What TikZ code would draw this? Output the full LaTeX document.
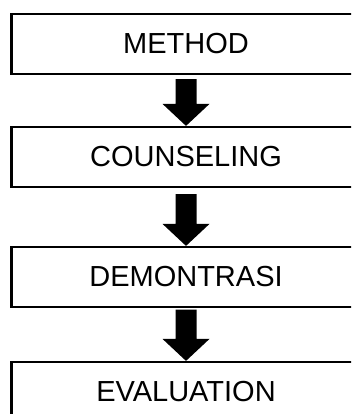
\documentclass[tikz,border=0pt]{standalone}
\usepackage{fontspec}
\setmainfont{Liberation Sans}
\usetikzlibrary{calc}
\tikzset{
  stepbox/.style={draw=black, line width=2.2pt, fill=white, rectangle,
    minimum width=349pt, minimum height=60pt, inner sep=0pt,
    font=\fontsize{29}{32}\selectfont},
}
\newcommand\fatarrow[3]{%
  \fill[black] let \p1=(#1.south), \p2=(#2.north) in
    ($(\x1-10.5pt,\y1-#3)$) -- ($(\x1+10.5pt,\y1-#3)$) -- ($(\x1+10.5pt,\y2+22pt)$)
    -- ($(\x1+23.5pt,\y2+22pt)$) -- ($(\x2,\y2)$) -- ($(\x1-23.5pt,\y2+22pt)$)
    -- ($(\x1-10.5pt,\y2+22pt)$) -- cycle;%
}
\begin{document}
\begin{tikzpicture}[x=1pt,y=-1pt]
\useasboundingbox (0,0) rectangle (351,414);
\clip (0,0) rectangle (351,414);
\node[stepbox] (b1) at (186,44) {METHOD};
\node[stepbox] (b2) at (186,157) {COUNSELING};
\node[stepbox] (b3) at (186,277) {DEMONTRASI};
\node[stepbox] (b4) at (186,392) {EVALUATION};
\fatarrow{b1}{b2}{4pt}
\fatarrow{b2}{b3}{6pt}
\fatarrow{b3}{b4}{1.5pt}
\end{tikzpicture}
\end{document}
